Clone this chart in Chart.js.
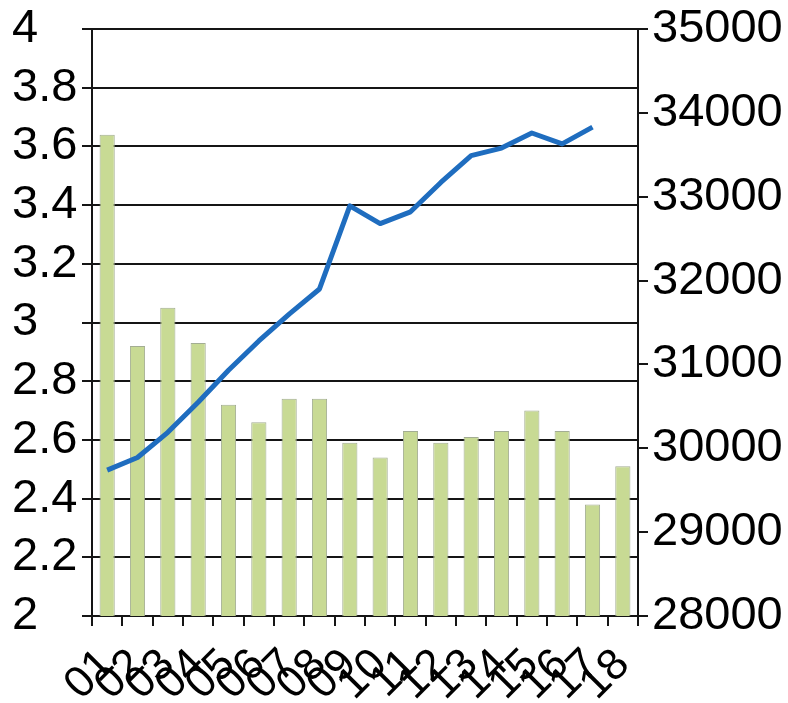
<!DOCTYPE html>
<html>
<head>
<meta charset="utf-8">
<script src="https://cdn.jsdelivr.net/npm/chart.js@4/dist/chart.umd.min.js"></script>
<style>
  html, body { margin: 0; padding: 0; background: #fff; }
  #wrap { width: 788px; height: 703px; position: relative; }
</style>
</head>
<body>
<div id="wrap"><canvas id="chart"></canvas></div>
<script>
const categories = ['01','02','03','04','05','06','07','08','09','10','11','12','13','14','15','16','17','18'];
const barValues = [3.64, 2.92, 3.05, 2.93, 2.72, 2.66, 2.74, 2.74, 2.59, 2.54, 2.63, 2.59, 2.61, 2.63, 2.70, 2.63, 2.38, 2.51];
const lineValues = [29740, 29890, 30190, 30550, 30930, 31280, 31600, 31900, 32890, 32680, 32820, 33170, 33490, 33580, 33760, 33630, 33830, null];
const leftTicks = ['2','2.2','2.4','2.6','2.8','3','3.2','3.4','3.6','3.8','4'];
const rightTicks = ['28000','29000','30000','31000','32000','33000','34000','35000'];

const FONT = "'Liberation Sans', Arial, sans-serif";
const INK = '#151515';

new Chart(document.getElementById('chart').getContext('2d'), {
  type: 'bar',
  data: {
    labels: categories,
    datasets: [
      { type: 'line', data: lineValues, yAxisID: 'y1', order: 1,
        borderColor: '#1f6dbf', borderWidth: 5, pointRadius: 0, tension: 0,
        borderJoinStyle: 'round', borderCapStyle: 'butt', spanGaps: false },
      { type: 'bar', data: barValues, yAxisID: 'y', order: 2,
        backgroundColor: '#c8da94', borderColor: '#a3ad93', borderWidth: 1,
        barPercentage: 0.5, categoryPercentage: 1.0 }
    ]
  },
  options: {
    responsive: true,
    maintainAspectRatio: false,
    animation: false,
    layout: { padding: { left: 12, right: 0, top: 29, bottom: 0 } },
    plugins: { legend: { display: false }, tooltip: { enabled: false } },
    scales: {
      x: {
        offset: true,
        grid: { offset: true, drawOnChartArea: false, color: INK, lineWidth: 2, tickLength: 10 },
        border: { color: INK, width: 2 },
        ticks: { autoSkip: false, maxRotation: 45, minRotation: 45, padding: 13,
                 color: '#000', font: { family: FONT, size: 44 } },
        afterFit: s => { s.height = 87; s.paddingLeft = 0; s.paddingRight = 0; }
      },
      y: {
        position: 'left', min: 2, max: 4,
        grid: { color: INK, lineWidth: 2, tickLength: 10 },
        border: { color: INK, width: 2 },
        ticks: { stepSize: 0.2, autoSkip: false, crossAlign: 'far', padding: 3, color: '#000',
                 font: { family: FONT, size: 47 },
                 callback: (v, i) => leftTicks[i] },
        afterFit: s => { s.width = 80; s.paddingTop = 0; s.paddingBottom = 0; }
      },
      y1: {
        position: 'right', min: 28000, max: 35000,
        grid: { drawOnChartArea: false, color: INK, lineWidth: 2, tickLength: 10 },
        border: { color: INK, width: 2 },
        ticks: { stepSize: 1000, autoSkip: false, padding: 4, color: '#000',
                 font: { family: FONT, size: 47 },
                 callback: (v, i) => rightTicks[i] },
        afterFit: s => { s.width = 150; s.paddingTop = 0; s.paddingBottom = 0; }
      }
    }
  }
});
</script>
</body>
</html>
